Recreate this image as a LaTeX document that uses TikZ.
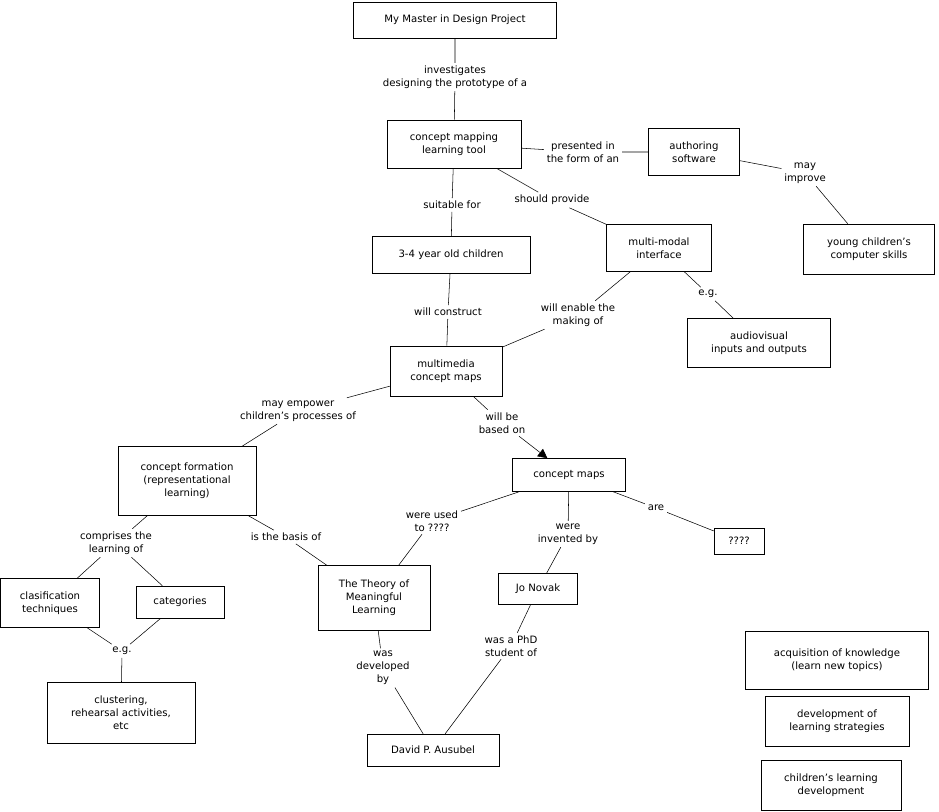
\documentclass[tikz,border=0pt]{standalone}
\usepackage{fontspec}
\setmainfont{DejaVu Sans}
\usetikzlibrary{arrows.meta}

\begin{document}
\begin{tikzpicture}[
		x=0.75pt, y=-0.75pt,
		font=\fontsize{7.6}{9.6}\selectfont,
		box/.style 2 args={draw, fill=white, align=center, inner sep=1pt, minimum width=#1*0.75pt, minimum height=#2*0.75pt},
		lbl/.style={align=center, inner sep=2pt, fill=white},
		link/.style={draw, thin},
		arrow/.style={-{Triangle[length=7pt,width=7pt]}, thin}
	]
	\useasboundingbox (0,0) rectangle (939,812);

	% concepts
	\node[box={203}{36}] (master) at (455,20) {My Master in Design Project};
	\node[box={134}{48}] (tool) at (454,144) {concept mapping\\learning tool};
	\node[box={91}{47}] (authoring) at (694,152) {authoring\\software};
	\node[box={131}{50}] (young) at (869,249) {young children's\\computer skills};
	\node[box={158}{37}] (children) at (451,255) {3-4 year old children};
	\node[box={105}{47}] (modal) at (659,248) {multi-modal\\interface};
	\node[box={143}{49}] (audio) at (759,343) {audiovisual\\inputs and outputs};
	\node[box={112}{50}] (mmmaps) at (446,371) {multimedia\\concept maps};
	\node[box={113}{33}] (cmaps) at (569,475) {concept maps};
	\node[box={138}{69}] (formation) at (187,481) {concept formation\\(representational\\learning)};
	\node[box={50}{26}] (unknown) at (739,541) {????};
	\node[box={99}{49}] (clasif) at (50,603) {clasification\\techniques};
	\node[box={88}{32}] (categories) at (180,602) {categories};
	\node[box={112}{65}] (theory) at (374,598) {The Theory of\\Meaningful\\Learning};
	\node[box={79}{31}] (novak) at (538,589) {Jo Novak};
	\node[box={148}{61}] (clustering) at (121,713) {clustering,\\rehearsal activities,\\etc};
	\node[box={132}{32}] (ausubel) at (433,750) {David P. Ausubel};
	\node[box={183}{58}] (acquisition) at (837,660) {acquisition of knowledge\\(learn new topics)};
	\node[box={144}{50}] (strategies) at (837,721) {development of\\learning strategies};
	\node[box={140}{50}] (learning) at (831,785) {children's learning\\development};

	% linking phrases
	\node[lbl] (investigates) at (455,77) {investigates\\designing the prototype of a};
	\node[lbl] (presented) at (583,152) {presented in\\the form of an};
	\node[lbl] (improve) at (805,173) {may\\improve};
	\node[lbl] (suitable) at (452,205) {suitable for};
	\node[lbl] (provide) at (552,200) {should provide};
	\node[lbl] (eg) at (708,294) {e.g.};
	\node[lbl] (construct) at (448,312) {will construct};
	\node[lbl] (enable) at (578,315) {will enable the\\making of};
	\node[lbl] (empower) at (298,411) {may empower\\children's processes of};
	\node[lbl] (based) at (502,423) {will be\\based on};
	\node[lbl] (used) at (432,521) {were used\\to ????};
	\node[lbl] (invented) at (568,534) {were\\invented by};
	\node[lbl] (are) at (656,508) {are};
	\node[lbl] (comprises) at (116,543) {comprises the\\learning of};
	\node[lbl] (basis) at (286,537) {is the basis of};
	\node[lbl] (eg2) at (122,651) {e.g.};
	\node[lbl] (phd) at (511,646) {was a PhD\\student of};
	\node[lbl] (developed) at (383,668) {was\\developed\\by};

	% connections
	\draw[link] (master) -- (investigates) -- (tool);
	\draw[link] (tool) -- (presented) -- (authoring);
	\draw[link] (authoring) -- (improve) -- (young);
	\draw[link] (tool) -- (suitable) -- (children);
	\draw[link] (tool) -- (provide) -- (modal);
	\draw[link] (modal) -- (eg) -- (audio);
	\draw[link] (children) -- (construct) -- (mmmaps);
	\draw[link] (modal) -- (enable) -- (mmmaps);
	\draw[link] (mmmaps) -- (empower) -- (formation);
	\draw[link] (mmmaps) -- (based);
	\draw[arrow] (based) -- (cmaps);
	\draw[link] (cmaps) -- (used) -- (theory);
	\draw[link] (cmaps) -- (invented) -- (novak);
	\draw[link] (cmaps) -- (are) -- (unknown);
	\draw[link] (formation) -- (comprises) -- (clasif);
	\draw[link] (comprises) -- (categories);
	\draw[link] (formation) -- (basis) -- (theory);
	\draw[link] (clasif) -- (eg2) -- (clustering);
	\draw[link] (categories) -- (eg2);
	\draw[link] (theory) -- (developed) -- (ausubel);
	\draw[link] (novak) -- (phd) -- (ausubel);
\end{tikzpicture}
\end{document}
